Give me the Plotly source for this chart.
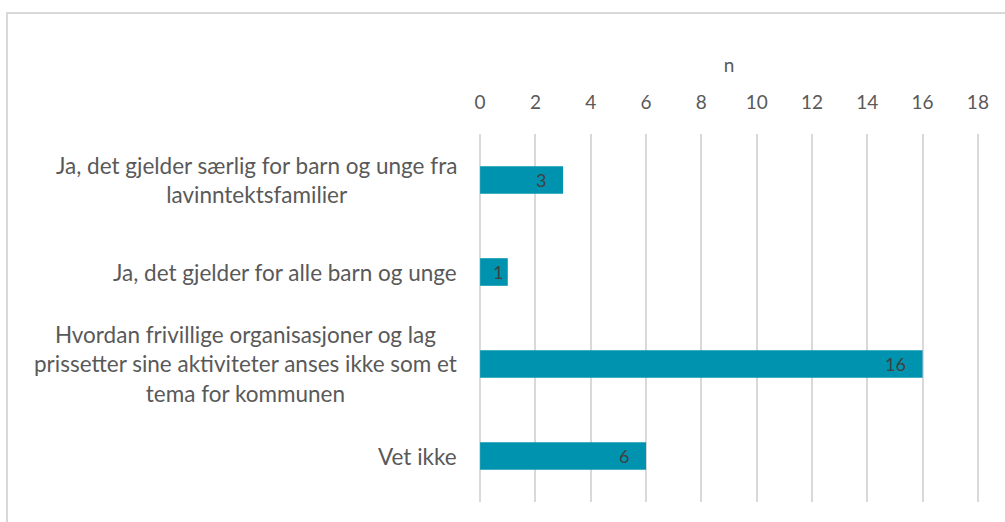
import plotly.graph_objects as go

categories = [
    "Ja, det gjelder særlig for barn og unge fra<br>lavinntektsfamilier",
    "Ja, det gjelder for alle barn og unge",
    "Hvordan frivillige organisasjoner og lag<br>prissetter sine aktiviteter anses ikke som et<br>tema for kommunen",
    "Vet ikke",
]
counts = [3, 1, 16, 6]
tick_vals = [0, 2, 4, 6, 8, 10, 12, 14, 16, 18]

FONT = "Lato, 'Source Sans Pro', 'Open Sans', sans-serif"
BAR_COLOR = "#0093AF"
TEXT_COLOR = "#595959"

fig = go.Figure()
fig.add_trace(go.Bar(
    y=list(range(len(categories))),
    x=counts,
    orientation="h",
    marker=dict(color=BAR_COLOR, line=dict(width=0)),
    hoverinfo="skip",
))

# value labels just inside the end of each bar (tighter on very short bars)
for i, v in enumerate(counts):
    fig.add_annotation(
        x=v, xref="x", xanchor="right", xshift=-15 if v >= 2 else -3,
        y=i, yref="y", yanchor="middle",
        text=str(v), showarrow=False,
        font=dict(family=FONT, size=18, color="#404040"),
    )

# category labels, centred line by line, left of the plot area
for i, cat in enumerate(categories):
    fig.add_annotation(
        x=0, xref="paper", xanchor="right", xshift=-20,
        y=i, yref="y", yanchor="middle",
        text=cat, showarrow=False, align="center",
        font=dict(family=FONT, size=22.5, color=TEXT_COLOR),
    )

# light frame around the chart
fig.add_shape(
    type="rect", xref="paper", yref="paper",
    x0=-472 / 500, x1=560 / 500, y0=-40 / 368, y1=(134 - 13) / 368 + 1,
    line=dict(color="#D9D9D9", width=2), fillcolor="rgba(0,0,0,0)",
    layer="below",
)

fig.update_layout(
    width=1005, height=522,
    margin=dict(l=479, r=26, t=134, b=20),
    paper_bgcolor="white", plot_bgcolor="white",
    bargap=0.7,
    showlegend=False,
    font=dict(family=FONT, color=TEXT_COLOR),
    xaxis=dict(
        side="top",
        range=[-0.04, 18.04],
        tickvals=tick_vals,
        ticks="",
        ticklabelstandoff=20,
        showgrid=True, gridcolor="#D9D9D9", gridwidth=2,
        zeroline=False, showline=False,
        tickfont=dict(family=FONT, size=19, color=TEXT_COLOR),
        title=dict(text="n", font=dict(family=FONT, size=19, color=TEXT_COLOR), standoff=12),
    ),
    yaxis=dict(
        range=[3.5, -0.5],
        showticklabels=False,
        showgrid=False, zeroline=False, showline=False, ticks="",
    ),
)

fig.write_html("out.html")
